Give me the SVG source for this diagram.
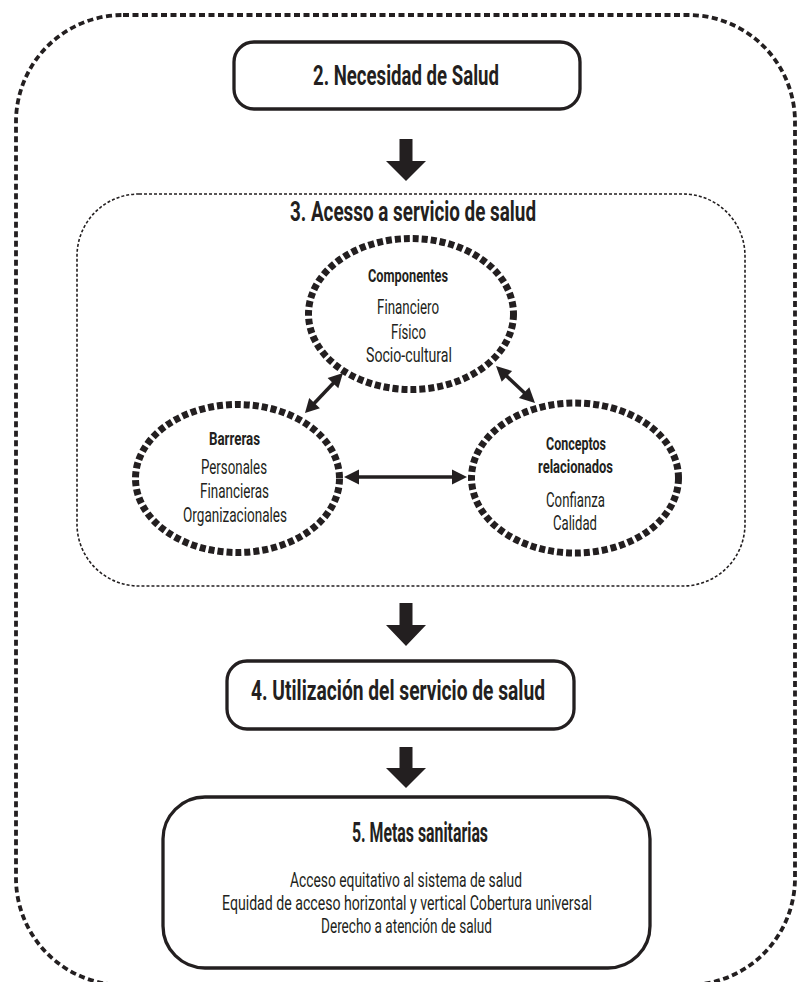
<svg xmlns="http://www.w3.org/2000/svg" width="797" height="982" viewBox="0 0 797 982">
<style>
.t{font-family:Roboto,"Liberation Sans",sans-serif;fill:#231f20}
.h{font-size:28.5px;font-weight:700}
.s{font-size:19px;font-weight:700}
.r{font-size:19.5px;font-weight:400}
.box{fill:#fff;stroke:#231f20;stroke-width:3.3}
.ell{fill:none;stroke:#231f20;stroke-width:7;stroke-dasharray:6 3}
.blk{fill:#231f20}
.ln{stroke:#231f20;stroke-width:3.5;fill:none}
</style>
<rect width="797" height="982" fill="#fff"/>
<g id="frame">
<rect x="16" y="15" width="779" height="970" rx="107" ry="107" fill="none" stroke="#231f20" stroke-width="3.8" stroke-dasharray="6 3.5"/>
</g>
<g id="node2">
<rect class="box" x="234" y="42" width="346" height="67" rx="20"/>
<text class="t h" x="313" y="85" textLength="186" lengthAdjust="spacingAndGlyphs">2. Necesidad de Salud</text>
</g>
<g id="node3">
<rect x="77" y="194" width="668" height="392" rx="62" fill="none" stroke="#231f20" stroke-width="1.6" stroke-dasharray="3 2"/>
<text class="t h" x="290" y="221" textLength="246" lengthAdjust="spacingAndGlyphs">3. Acesso a servicio de salud</text>
</g>
<g id="componentes">
<ellipse class="ell" cx="411" cy="314" rx="102.5" ry="75.5"/>
<text class="t s" x="368" y="282" textLength="80" lengthAdjust="spacingAndGlyphs">Componentes</text>
<text class="t r" x="377" y="314" textLength="62" lengthAdjust="spacingAndGlyphs">Financiero</text>
<text class="t r" x="391" y="339" textLength="35" lengthAdjust="spacingAndGlyphs">Físico</text>
<text class="t r" x="366" y="362" textLength="86" lengthAdjust="spacingAndGlyphs">Socio-cultural</text>
</g>
<g id="barreras">
<ellipse class="ell" cx="237.5" cy="478.5" rx="102" ry="74"/>
<text class="t s" x="209" y="445" textLength="51" lengthAdjust="spacingAndGlyphs">Barreras</text>
<text class="t r" x="201" y="474" textLength="66" lengthAdjust="spacingAndGlyphs">Personales</text>
<text class="t r" x="200" y="498" textLength="69" lengthAdjust="spacingAndGlyphs">Financieras</text>
<text class="t r" x="183" y="522" textLength="104" lengthAdjust="spacingAndGlyphs">Organizacionales</text>
</g>
<g id="conceptos">
<ellipse class="ell" cx="575" cy="478" rx="103.5" ry="75"/>
<text class="t s" x="546" y="450" textLength="60" lengthAdjust="spacingAndGlyphs">Conceptos</text>
<text class="t s" x="538" y="473" textLength="75" lengthAdjust="spacingAndGlyphs">relacionados</text>
<text class="t r" x="546" y="507" textLength="59" lengthAdjust="spacingAndGlyphs">Confianza</text>
<text class="t r" x="553" y="530" textLength="44" lengthAdjust="spacingAndGlyphs">Calidad</text>
</g>
<g id="node4">
<rect class="box" x="227" y="661" width="347" height="68" rx="20"/>
<text class="t h" x="251" y="700" textLength="294" lengthAdjust="spacingAndGlyphs">4. Utilización del servicio de salud</text>
</g>
<g id="node5">
<rect class="box" x="163" y="797" width="487" height="171" rx="42" stroke-width="3.6"/>
<text class="t h" x="352" y="842" textLength="136" lengthAdjust="spacingAndGlyphs">5. Metas sanitarias</text>
<text class="t r" x="290" y="887" textLength="232" lengthAdjust="spacingAndGlyphs">Acceso equitativo al sistema de salud</text>
<text class="t r" x="222" y="910" textLength="370" lengthAdjust="spacingAndGlyphs">Equidad de acceso horizontal y vertical Cobertura universal</text>
<text class="t r" x="321" y="933" textLength="171" lengthAdjust="spacingAndGlyphs">Derecho a atención de salud</text>
</g>
<g id="connectors">
<polygon class="blk" points="399.5,139 412.5,139 412.5,161 426,161 406,181 386,161 399.5,161"/>
<polygon class="blk" points="399.5,603 412.5,603 412.5,625 426,625 406,646 386,625 399.5,625"/>
<polygon class="blk" points="399.5,747 412.5,747 412.5,768 426,768 406,788 386,768 399.5,768"/>
<line class="ln" x1="311.9" y1="405.8" x2="336.1" y2="380.3"/>
<polygon class="blk" points="305,413 319.9,408.3 309.2,398.1"/>
<polygon class="blk" points="343,373 338.3,388.3 327.6,378.1"/>
<line class="ln" x1="503.3" y1="372.9" x2="527.8" y2="396.1"/>
<polygon class="blk" points="496,366 501.7,381.7 512.1,370.9"/>
<polygon class="blk" points="535,403 518.9,398.1 529.3,387.3"/>
<line class="ln" x1="354" y1="477" x2="457" y2="477"/>
<polygon class="blk" points="344,477 359,469.5 359,484.5"/>
<polygon class="blk" points="467,477 452,469.5 452,484.5"/>
</g>
</svg>
